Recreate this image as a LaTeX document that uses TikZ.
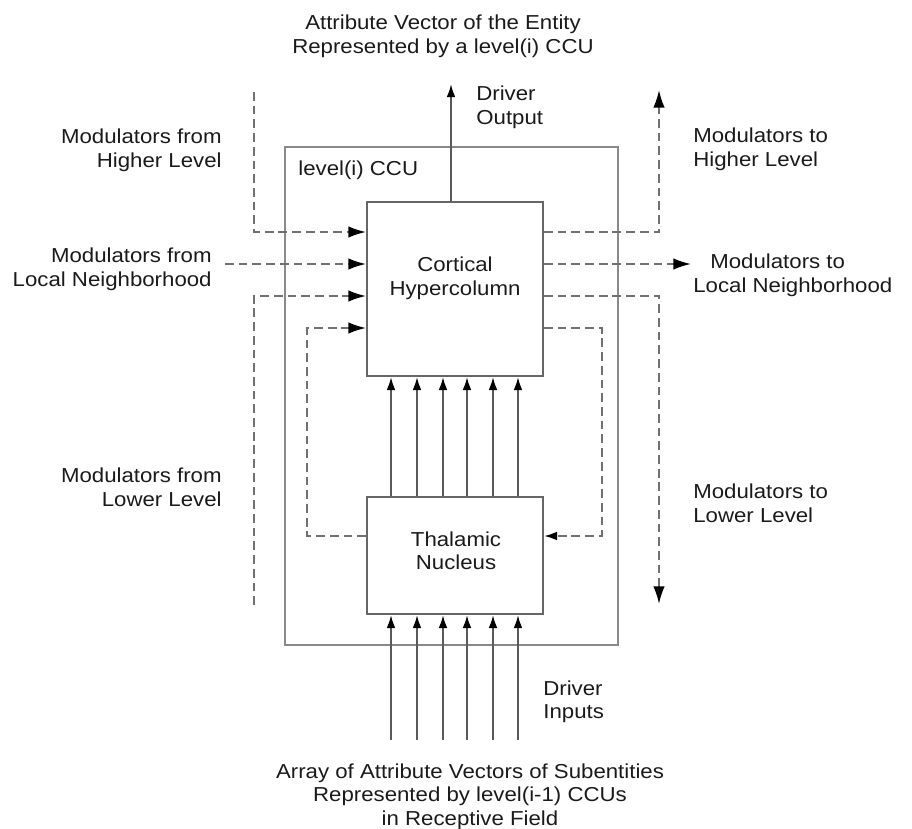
\documentclass[tikz,border=0pt]{standalone}
\usepackage{fontspec}
\setmainfont{Liberation Sans}[FakeStretch=1.1]
\usetikzlibrary{arrows.meta}

\definecolor{boxgray}{HTML}{666666}
\definecolor{outgray}{HTML}{8A8A8A}
\definecolor{linegray}{HTML}{5A5A5A}
\definecolor{dashgray}{HTML}{707070}
\definecolor{txt}{HTML}{1A1A1A}

\tikzset{
  box/.style={draw=boxgray, line width=1.1pt, rectangle, inner sep=0pt},
  drv/.style={draw=linegray, line width=1.1pt, -{Latex[length=7.5pt,width=5pt,color=black]}},
  mod/.style={draw=dashgray, line width=1.1pt, dash pattern=on 5pt off 2.8pt, -{Latex[length=10pt,width=6.5pt,color=black]}},
  lbl/.style={font=\fontsize{11.5}{13.6}\selectfont, text=txt, inner sep=0pt},
}

\begin{document}
\begin{tikzpicture}[x=0.02cm, y=-0.02cm]
		\useasboundingbox (0,0) rectangle (912,828);
		
		\node[box, draw=outgray, line width=0.9pt, minimum width=6.66cm, minimum height=9.96cm] (ccu) at (451.5,396) {};
		\node[box, minimum width=3.52cm, minimum height=3.48cm] (hc) at (455,289) {};
		\node[box, minimum width=3.52cm, minimum height=2.34cm] (th) at (455,555.5) {};
		
		\node[lbl, anchor=north west] (ccutext) at (298,161) {level(i) CCU};
		\node[lbl, anchor=north, align=center] (hctext) at (455,257) {Cortical\\Hypercolumn};
		\node[lbl, anchor=north, align=center] (thtext) at (456,531) {Thalamic\\Nucleus};
		
		% driver path
		\coordinate (out) at (451,84);
		\draw[drv] (hc.north -| out) -- (out);
		\foreach \xx [count=\i] in {391,417,443,467,493,518} {
			\coordinate (in\i) at (\xx,740);
			\draw[drv] (in\i) -- (th.south -| in\i);
			\draw[drv] (th.north -| in\i) -- (hc.south -| in\i);
		}
		
		% rows of modulator inputs and outputs
		\coordinate (r1) at (0,232);
		\coordinate (r2) at (0,264);
		\coordinate (r3) at (0,296);
		\coordinate (r4) at (0,328);
		\coordinate (r5) at (0,536);
		
		\coordinate (hiL) at (254,92);
		\coordinate (loL) at (225,264);
		\coordinate (lwL) at (254,605);
		\coordinate (lpL) at (307,328);
		\draw[mod] (hiL) |- (hc.west |- r1);
		\draw[mod] (loL) -- (hc.west |- r2);
		\draw[mod] (lwL) |- (hc.west |- r3);
		\draw[mod] (th.west |- r5) -| (lpL) -- (hc.west |- r4);
		
		\coordinate (hiR) at (659,90);
		\coordinate (loR) at (691,264);
		\coordinate (lwR) at (659,604);
		\coordinate (lpR) at (602,536);
		\draw[mod] (hc.east |- r1) -| (hiR);
		\draw[mod] (hc.east |- r2) -- (loR);
		\draw[mod] (hc.east |- r3) -| (lwR);
		\draw[mod, -{Latex[length=7.5pt,width=5pt,color=black]}] (hc.east |- r4) -| (lpR) -- (th.east |- r5);
		
		% labels
		\node[lbl, anchor=north, align=center] (entity) at (443,15) {Attribute Vector of the Entity\\Represented by a level(i) CCU};
		\node[lbl, anchor=north west, align=left] (drvout) at (476,86) {Driver\\Output};
		\node[lbl, anchor=north west, align=left] (drvin) at (543,680) {Driver\\Inputs};
		\node[lbl, anchor=north, align=center] (subent) at (470,763) {Array of Attribute Vectors of Subentities\\Represented by level(i-1) CCUs\\in Receptive Field};
		
		\node[lbl, anchor=north east, align=right] (fromhi) at (222,129) {Modulators from\\Higher Level};
		\node[lbl, anchor=north east, align=right] (fromlo) at (212,248) {Modulators from\\Local Neighborhood};
		\node[lbl, anchor=north east, align=right] (fromlw) at (222,468) {Modulators from\\Lower Level};
		\node[lbl, anchor=north west, align=left] (tohi) at (693,128) {Modulators to\\Higher Level};
		\node[lbl, anchor=north west, align=left] (tolo) at (693,254) {\hspace*{0.34cm}Modulators to\\Local Neighborhood};
		\node[lbl, anchor=north west, align=left] (tolw) at (693,484) {Modulators to\\Lower Level};
\end{tikzpicture}
\end{document}
